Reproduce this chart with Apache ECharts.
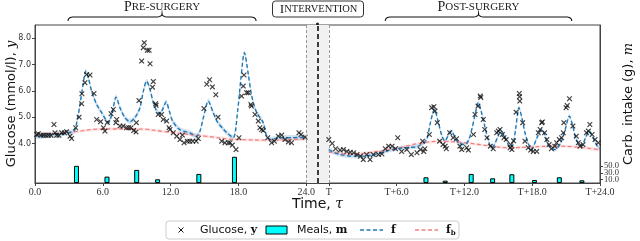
<!DOCTYPE html>
<html><head><meta charset="utf-8">
<script src="https://cdn.jsdelivr.net/npm/echarts@6/dist/echarts.min.js"></script>
<style>body{margin:0;background:#fff}#c{width:640px;height:241px}</style>
</head><body><div id="c"></div>
<script>
// Position of "T" (start of post-surgery day) on the time axis
const T0 = 26;
const xTickValues = [0, 6, 12, 18, 24, 26, 32, 38, 44, 50];
const xTickLabels = ['0.0', '6.0', '12.0', '18.0', '24.0', 'T', 'T+6.0', 'T+12.0', 'T+18.0', 'T+24.0'];
const yTickValues = [4, 5, 6, 7, 8];
const carbTickValues = [10, 30, 50];

// Glucose observations [time, mmol/l]
const glucosePre = [[0.15,4.34],[0.29,4.37],[0.53,4.31],[0.74,4.31],[0.97,4.31],[1.18,4.31],[1.42,4.31],[1.68,4.72],[1.77,4.41],[1.92,4.31],[2.12,4.31],[2.36,4.41],[2.6,4.41],[2.8,4.45],[3.1,4.28],[3.24,4.19],[3.6,4.6],[3.9,5.0],[4.13,5.51],[4.15,5.89],[4.42,6.31],[4.57,6.62],[4.87,6.6],[5.22,5.9],[5.46,4.91],[5.81,4.83],[6.05,4.6],[6.19,4.47],[6.4,4.8],[6.73,5.13],[6.93,5.29],[7.15,4.79],[7.23,4.91],[7.52,4.66],[7.8,4.66],[8.1,4.6],[8.3,4.6],[8.5,4.6],[8.73,4.49],[8.94,4.44],[8.97,4.79],[9.2,5.63],[9.44,7.13],[9.58,7.64],[9.67,7.83],[9.94,7.54],[10.1,7.54],[10.18,7.03],[10.4,6.14],[10.47,6.35],[10.68,5.51],[10.72,5.45],[10.9,5.1],[11.2,5.1],[11.35,4.91],[11.65,4.85],[11.86,4.6],[11.95,4.53],[12.24,4.41],[12.54,4.28],[12.83,4.15],[13.04,4.32],[13.19,4.03],[13.48,4.09],[13.7,4.09],[13.96,4.09],[14.26,4.09],[14.45,4.19],[14.95,5.33],[15.2,6.25],[15.45,6.42],[15.7,6.15],[16.0,5.85],[16.2,5.0],[16.52,4.09],[16.81,4.03],[17.1,4.03],[17.26,4.03],[17.46,3.94],[17.79,3.77],[18.05,4.22],[18.28,5.8],[18.43,6.18],[18.5,6.6],[18.73,5.93],[18.88,5.93],[19.1,5.48],[19.15,5.42],[19.47,5.1],[19.76,4.85],[19.9,4.6],[20.06,4.53],[20.2,4.49],[20.6,4.22],[20.94,4.03],[21.18,4.09],[21.53,4.28],[21.83,4.32],[22.12,4.15],[22.42,4.06],[22.7,4.03],[23.36,4.41],[23.54,4.34],[23.9,4.24]];
// post-surgery times are hours after T
const glucosePost = [[0.0,4.15],[0.3,4.0],[0.6,3.8],[1.0,3.75],[1.3,3.77],[1.6,3.7],[1.9,3.67],[2.2,3.65],[2.5,3.58],[2.8,3.52],[3.05,3.39],[3.35,3.58],[3.65,3.39],[3.94,3.58],[4.4,3.58],[4.7,3.6],[5.0,3.8],[5.3,3.9],[5.6,3.9],[5.9,3.8],[6.1,4.22],[6.45,3.7],[6.9,3.77],[7.3,3.58],[7.8,3.65],[8.1,3.77],[8.3,4.09],[8.4,3.7],[8.5,3.8],[8.9,4.34],[9.1,5.36],[9.3,5.4],[9.4,5.23],[9.6,4.79],[9.8,4.09],[10.1,3.96],[10.3,3.9],[10.4,3.8],[10.7,4.41],[11.0,4.22],[11.3,4.18],[11.6,3.9],[11.76,3.77],[12.2,3.84],[12.35,3.75],[12.8,4.34],[12.94,5.1],[13.2,5.42],[13.4,5.8],[13.45,5.75],[13.67,4.91],[13.8,4.53],[14.0,4.22],[14.3,3.9],[14.55,3.8],[14.86,4.41],[15.0,4.47],[15.15,4.53],[15.36,4.34],[15.5,4.22],[15.7,4.15],[16.04,3.84],[16.1,3.96],[16.2,3.77],[16.35,4.1],[16.57,5.19],[16.86,5.9],[16.88,5.78],[16.9,5.61],[17.16,4.79],[17.36,4.09],[17.65,3.84],[17.87,3.75],[18.1,3.7],[18.4,3.7],[18.54,4.41],[18.7,4.53],[18.84,4.79],[18.9,4.82],[19.1,4.41],[19.3,4.15],[19.5,3.96],[19.7,3.8],[20.0,3.9],[20.16,4.03],[20.4,4.15],[20.6,4.22],[20.75,4.41],[20.8,4.79],[21.0,5.36],[21.1,5.44],[21.3,5.7],[21.6,4.66],[21.9,4.28],[22.08,4.03],[22.23,3.9],[22.5,3.96],[22.8,4.41],[22.97,4.47],[23.1,4.72],[23.3,4.34],[23.56,4.15],[23.85,4.03]];

// GP posterior mean f [time, mmol/l]
const fPre = [[0,4.28],[1.77,4.34],[2.95,4.41],[3.4,4.45],[3.54,4.53],[3.78,4.98],[3.98,5.48],[4.28,6.31],[4.49,6.75],[4.72,6.5],[5.01,5.99],[5.46,5.48],[5.9,5.17],[6.34,4.85],[6.49,4.79],[6.84,5.17],[7.17,5.76],[7.52,5.36],[7.96,4.98],[8.41,4.83],[8.85,4.98],[9.29,5.36],[9.59,5.99],[9.88,6.37],[10.18,6.05],[10.47,5.55],[10.77,5.23],[11.06,5.12],[11.36,5.36],[11.6,5.58],[11.89,5.23],[12.18,4.85],[12.8,4.53],[13.7,4.4],[14.3,4.28],[14.6,4.47],[14.9,4.98],[15.34,5.61],[15.72,5.23],[16.1,4.85],[16.7,4.53],[17.0,4.4],[17.55,4.22],[17.93,5.23],[18.23,6.5],[18.53,7.45],[18.88,6.62],[19.18,5.8],[19.62,5.17],[20.2,4.79],[20.5,4.28],[20.8,4.15],[21.83,4.22],[22.7,4.22],[24,4.24]];
const fPost = [[0,3.77],[0.5,3.65],[1,3.58],[2,3.52],[3,3.52],[4,3.58],[5,3.7],[6,3.8],[7,3.85],[7.8,3.88],[8.3,4.0],[8.66,4.15],[9.0,4.8],[9.34,5.29],[9.7,4.79],[10.0,4.3],[10.28,4.09],[10.5,4.25],[10.8,4.47],[11.1,4.3],[11.46,4.03],[12.05,3.96],[12.4,4.15],[12.65,4.53],[12.95,5.1],[13.23,5.55],[13.5,5.2],[13.8,4.66],[14.1,4.15],[14.4,3.84],[14.6,3.9],[14.9,4.2],[15.24,4.47],[15.7,4.15],[16.04,3.84],[16.3,3.95],[16.55,4.6],[16.83,5.36],[17.1,4.95],[17.36,4.41],[17.65,4.0],[17.95,3.77],[18.4,4.2],[18.84,4.53],[19.1,4.35],[19.4,3.96],[20.0,3.77],[20.5,4.0],[20.9,4.5],[21.29,5.04],[21.6,4.65],[21.9,4.15],[22.38,3.9],[22.7,4.2],[23.05,4.47],[23.4,4.2],[23.76,3.9],[24,3.8]];
// baseline f_b
const fbPre = [[0,4.33],[3,4.42],[6,4.55],[9,4.55],[12,4.42],[15,4.28],[18,4.15],[21,4.13],[24,4.18]];
const fbPost = [[0,3.68],[2,3.6],[4,3.68],[6,3.82],[8,4.0],[10,4.08],[12,4.03],[14,3.92],[16,3.84],[18,3.87],[20,3.9],[22,3.86],[24,3.76]];
// credible band half-widths
const fBandPre = 0.1, fBandPost = 0.08, fbBand = 0.06;

// Meals [time, carbs g]
const mealsPre = [[3.67,51],[6.37,19],[9.0,39],[10.85,11],[14.5,27],[17.65,78]];
const mealsPost = [[8.6,17],[10.3,7],[12.6,27],[14.5,14],[16.2,26],[18.2,9],[20.4,17],[22.4,8]];

const shift = arr => arr.map(p => [p[0] + T0, p[1]]);

const chart = echarts.init(document.getElementById('c'), null, {renderer: 'canvas'});
const BLUE = '#1f77b4', RED = '#f48080';

// credible band drawn as one polygon through the axis scales
function band(arr, h, color) {
  return {
    type: 'custom', data: arr, silent: true, z: 1, clip: true,
    renderItem: function (params, api) {
      if (params.dataIndex !== 0) return null;
      const up = arr.map(p => api.coord([p[0], p[1] + h]));
      const lo = arr.map(p => api.coord([p[0], p[1] - h])).reverse();
      return {type: 'polygon', shape: {points: up.concat(lo), smooth: 0.25}, style: {fill: color}};
    }
  };
}
const crossPath = 'path://M0,1.5L1.5,0L5,3.5L8.5,0L10,1.5L6.5,5L10,8.5L8.5,10L5,6.5L1.5,10L0,8.5L3.5,5Z';
const nameRich = {a: {fontFamily: 'DejaVu Sans', fontSize: 13, color: '#111'}, i: {fontFamily: 'DejaVu Serif', fontStyle: 'italic', fontSize: 13, color: '#111'}};

const option = {
  animation: false,
  grid: {left: 35, right: 40, top: 25, bottom: 58, show: true, borderColor: '#444', borderWidth: 1, outerBoundsMode: 'none', containLabel: false},
  xAxis: {
    type: 'value', min: 0, max: 50,
    name: '{a|Time, }{i|τ}', nameLocation: 'middle', nameGap: 14, nameMoveOverlap: false,
    nameTextStyle: {rich: {a: {fontFamily: 'DejaVu Sans', fontSize: 14, color: '#111'}, i: {fontFamily: 'DejaVu Serif', fontStyle: 'italic', fontSize: 14, color: '#111'}}},
    axisLine: {lineStyle: {color: '#444'}},
    axisTick: {customValues: xTickValues, length: 3, lineStyle: {color: '#444'}},
    axisLabel: {customValues: xTickValues, formatter: v => xTickLabels[xTickValues.indexOf(v)], fontFamily: 'Liberation Serif', fontSize: 10, color: '#333', margin: 4, hideOverlap: false},
    splitLine: {show: false}
  },
  yAxis: [{
    type: 'value', min: 2.5, max: 8.5,
    name: '{a|Glucose (mmol/l), }{i|y}', nameLocation: 'middle', nameGap: 17, nameRotate: 90, nameMoveOverlap: false,
    nameTextStyle: {rich: nameRich},
    axisLine: {show: true, lineStyle: {color: '#444'}},
    axisTick: {show: true, customValues: yTickValues, length: 3, lineStyle: {color: '#444'}},
    axisLabel: {customValues: yTickValues, formatter: v => v.toFixed(1), fontFamily: 'DejaVu Sans', fontSize: 8, color: '#333', margin: 4},
    splitLine: {show: false}
  }, {
    type: 'value', min: 0, max: 470, position: 'right',
    name: '{a|Carb. intake (g), }{i|m}', nameLocation: 'middle', nameGap: 22, nameRotate: 90, nameMoveOverlap: false,
    nameTextStyle: {rich: nameRich},
    axisLine: {show: true, lineStyle: {color: '#444'}},
    axisTick: {show: true, customValues: carbTickValues, length: 3, lineStyle: {color: '#444'}},
    axisLabel: {show: false},
    splitLine: {show: false}
  }],
  series: [
    {type: 'line', data: [], markArea: {silent: true, itemStyle: {color: '#f1f1f1'}, data: [[{xAxis: 24}, {xAxis: T0}]]},
     markLine: {silent: true, symbol: 'none', label: {show: false}, data: [
       {xAxis: 24, lineStyle: {color: '#999', type: [3, 2], width: 1}},
       {xAxis: T0, lineStyle: {color: '#999', type: [3, 2], width: 1}},
       {xAxis: 25, lineStyle: {color: '#000', type: [5, 3], width: 1.5}}]}, z: 0},
    band(fPre, fBandPre, 'rgba(31,119,180,0.2)'),
    band(shift(fPost), fBandPost, 'rgba(31,119,180,0.2)'),
    band(fbPre, fbBand, 'rgba(255,120,120,0.15)'),
    band(shift(fbPost), fbBand, 'rgba(255,120,120,0.15)'),
    {name: 'f_b', type: 'line', data: fbPre, symbol: 'none', smooth: true, lineStyle: {color: RED, type: [4, 2.5], width: 1.3}, z: 2},
    {name: 'f_b', type: 'line', data: shift(fbPost), symbol: 'none', smooth: true, lineStyle: {color: RED, type: [4, 2.5], width: 1.3}, z: 2},
    {name: 'f', type: 'line', data: fPre, symbol: 'none', smooth: 0.3, lineStyle: {color: BLUE, type: [4, 2.5], width: 1.4}, z: 3},
    {name: 'f', type: 'line', data: shift(fPost), symbol: 'none', smooth: 0.3, lineStyle: {color: BLUE, type: [4, 2.5], width: 1.4}, z: 3},
    {name: 'Meals, m', type: 'bar', yAxisIndex: 1, barWidth: 5, data: mealsPre.concat(shift(mealsPost)),
     itemStyle: {color: '#00ffff', borderColor: '#000', borderWidth: 1}, z: 3},
    {name: 'Glucose, y', type: 'scatter', data: glucosePre.concat(shift(glucosePost)), symbol: crossPath, symbolSize: 5.5,
     itemStyle: {color: '#111'}, z: 4}
  ]
};
chart.setOption(option);

const px = v => chart.convertToPixel({xAxisIndex: 0}, v);
const pyCarb = v => chart.convertToPixel({yAxisIndex: 1}, v);
const xRight = px(50);
function quad(p0, p1, p2, n) {
  const out = [];
  for (let i = 0; i <= n; i++) {
    const t = i / n, a = (1 - t) * (1 - t), b = 2 * t * (1 - t), c = t * t;
    out.push([a * p0[0] + b * p1[0] + c * p2[0], a * p0[1] + b * p1[1] + c * p2[1]]);
  }
  return out;
}
function brace(x0, x1, yTop, yEnd) {
  const m = (x0 + x1) / 2, yh = yTop + 3.5;
  return [].concat(
    quad([x0, yEnd], [x0, yh], [x0 + 6, yh], 8),
    quad([m - 6, yh], [m, yh], [m, yTop], 8),
    quad([m, yTop], [m, yh], [m + 6, yh], 8),
    quad([x1 - 6, yh], [x1, yh], [x1, yEnd], 8));
}
const scRich = {L: {fontFamily: 'Liberation Serif', fontSize: 14, fill: '#222'}, s: {fontFamily: 'Liberation Serif', fontSize: 11, fill: '#222'}};
const preL = px(2.92), preR = px(19.56), postL = px(31.0), postR = px(47.5), xi = px(25);
const lg = {x: 166, y: 221};
const carbLabels = carbTickValues.map(v => ({type: 'text', x: xRight + 4, y: pyCarb(v),
  style: {text: v.toFixed(1), font: '8.5px "Liberation Serif"', fill: '#333', verticalAlign: 'middle', align: 'left'}}));
chart.setOption({graphic: [
  ...carbLabels,
  {type: 'polyline', shape: {points: brace(preL, preR, 13.5, 21)}, style: {fill: null, stroke: '#111', lineWidth: 1.1}},
  {type: 'polyline', shape: {points: brace(postL, postR, 13.5, 21)}, style: {fill: null, stroke: '#111', lineWidth: 1.1}},
  {type: 'text', x: (preL + preR) / 2, y: 7.5, style: {text: '{L|P}{s|RE-SURGERY}', rich: scRich, align: 'center', verticalAlign: 'middle'}},
  {type: 'text', x: (postL + postR) / 2, y: 7.5, style: {text: '{L|P}{s|OST-SURGERY}', rich: scRich, align: 'center', verticalAlign: 'middle'}},
  {type: 'rect', shape: {x: xi - 45, y: 1, width: 91, height: 16, r: 3}, style: {fill: '#fff', stroke: '#333', lineWidth: 1}},
  {type: 'text', x: xi + 1, y: 9.5, style: {text: '{L|I}{s|NTERVENTION}', rich: {L: {fontFamily: 'Liberation Serif', fontSize: 13.5, fill: '#222'}, s: {fontFamily: 'Liberation Serif', fontSize: 10.5, fill: '#222'}}, align: 'center', verticalAlign: 'middle'}},
  {type: 'circle', shape: {cx: xi, cy: 24, r: 1.5}, style: {fill: '#222'}},
  // legend
  {type: 'rect', shape: {x: lg.x, y: lg.y, width: 293, height: 18, r: 3}, style: {fill: '#fff', stroke: '#ccc', lineWidth: 1}},
  {type: 'line', shape: {x1: 178.5, y1: 227.5, x2: 183.5, y2: 232.5}, style: {stroke: '#111', lineWidth: 1}},
  {type: 'line', shape: {x1: 183.5, y1: 227.5, x2: 178.5, y2: 232.5}, style: {stroke: '#111', lineWidth: 1}},
  {type: 'text', x: 200, y: 230.5, style: {text: '{a|Glucose, }{b|y}', verticalAlign: 'middle', rich: {a: {fontFamily: 'DejaVu Sans', fontSize: 11, fill: '#111'}, b: {fontFamily: 'DejaVu Serif', fontWeight: 'bold', fontSize: 11, fill: '#111'}}}},
  {type: 'rect', shape: {x: 266, y: 226, width: 21, height: 8}, style: {fill: '#00ffff', stroke: '#000', lineWidth: 1}},
  {type: 'text', x: 297, y: 230.5, style: {text: '{a|Meals, }{b|m}', verticalAlign: 'middle', rich: {a: {fontFamily: 'DejaVu Sans', fontSize: 11, fill: '#111'}, b: {fontFamily: 'DejaVu Serif', fontWeight: 'bold', fontSize: 11, fill: '#111'}}}},
  {type: 'line', shape: {x1: 360, y1: 230, x2: 383, y2: 230}, style: {stroke: BLUE, lineWidth: 1.3, lineDash: [4, 2.5]}},
  {type: 'text', x: 391, y: 230.5, style: {text: 'f', verticalAlign: 'middle', font: 'bold 11px "DejaVu Serif"', fill: '#111'}},
  {type: 'line', shape: {x1: 415, y1: 230, x2: 438, y2: 230}, style: {stroke: RED, lineWidth: 1.3, lineDash: [4, 2.5]}},
  {type: 'text', x: 446, y: 230.5, style: {text: '{b|f}{s|b}', verticalAlign: 'middle', rich: {b: {fontFamily: 'DejaVu Serif', fontWeight: 'bold', fontSize: 11, fill: '#111'}, s: {fontFamily: 'DejaVu Serif', fontWeight: 'bold', fontSize: 7, fill: '#111', padding: [5, 0, 0, 0]}}}}
]});
</script></body></html>
